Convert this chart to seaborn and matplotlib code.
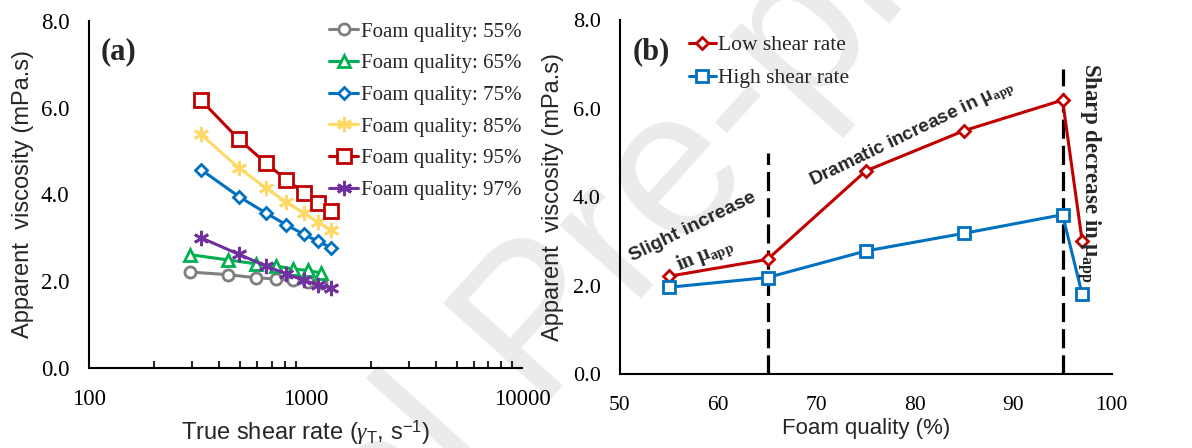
import numpy as np
import pandas as pd
import matplotlib
matplotlib.use("Agg")
import matplotlib.pyplot as plt
import seaborn as sns

sns.set_theme(style="white")
plt.rcParams['font.family'] = ['Liberation Serif', 'DejaVu Serif']
plt.rcParams['mathtext.fontset'] = 'custom'
plt.rcParams['mathtext.rm'] = 'Liberation Sans'
plt.rcParams['mathtext.it'] = 'Liberation Serif:italic'
plt.rcParams['mathtext.bf'] = 'Liberation Serif:bold'

# ---------------- data: panel (a) ----------------
shear_a = [329, 492, 656, 814, 982, 1140, 1313]      # 75, 85, 95, 97 %
shear_b = [294, 438, 588, 732, 874, 1025, 1173]      # 55, 65 %
visc_55 = [2.21, 2.15, 2.08, 2.05, 2.02, 1.98, 1.95]
visc_65 = [2.61, 2.49, 2.40, 2.35, 2.28, 2.25, 2.19]
visc_75 = [4.57, 3.95, 3.57, 3.30, 3.08, 2.92, 2.77]
visc_85 = [5.38, 4.61, 4.15, 3.82, 3.57, 3.36, 3.18]
visc_95 = [6.17, 5.27, 4.72, 4.34, 4.04, 3.81, 3.61]
visc_97 = [3.00, 2.62, 2.35, 2.17, 2.02, 1.92, 1.84]
labels_a = ["Foam quality: 55%", "Foam quality: 65%", "Foam quality: 75%",
            "Foam quality: 85%", "Foam quality: 95%", "Foam quality: 97%"]

# ---------------- data: panel (b) ----------------
foam_q = [55, 65, 75, 85, 95, 97]
low_shear = [2.21, 2.59, 4.59, 5.50, 6.19, 3.00]
high_shear = [1.96, 2.18, 2.78, 3.18, 3.60, 1.80]
dash_x = [65, 95]
dash_top = [5.0, 6.9]

C_GREY, C_GREEN, C_BLUE = "#7F7F7F", "#00B050", "#0070C0"
C_YELLOW, C_RED, C_PURPLE = "#FFD966", "#C00000", "#7030A0"
SANS = 'Liberation Sans'
SERIF = 'Liberation Serif'

fig = plt.figure(figsize=(11.92, 4.48), dpi=100)

# watermark
fig.text(0.454, 0.266, "Journal Pre-proof", fontsize=150, family=SANS,
         color="#EBEBEB", rotation=48, ha="center", va="center", zorder=-5)

axA = fig.add_axes([89/1192, 1-368/448, (522-89)/1192, (368-20.7)/448])
axB = fig.add_axes([620/1192, 1-374/448, (1111.7-620)/1192, (374-20)/448])
for ax in (axA, axB):
    ax.set_facecolor("none")
    for s in ("top", "right"):
        ax.spines[s].set_visible(False)
    for s in ("left", "bottom"):
        ax.spines[s].set_color("black")
        ax.spines[s].set_linewidth(1.5)

series = [
    (shear_b, visc_55, C_GREY, "o", 8, "white"),
    (shear_b, visc_65, C_GREEN, "^", 8, "white"),
    (shear_a, visc_75, C_BLUE, "D", 6, "white"),
    (shear_a, visc_85, C_YELLOW, (6, 2, 0), 11, C_YELLOW),
    (shear_a, visc_95, C_RED, "s", 9.5, "white"),
    (shear_a, visc_97, C_PURPLE, (6, 2, 0), 11, C_PURPLE),
]
for (xs, ys, col, mk, ms, mfc), lab in zip(series, labels_a):
    df = pd.DataFrame({"x": xs, "y": ys})
    sns.lineplot(data=df, x="x", y="y", ax=axA, color=col, marker=mk,
                 markersize=ms, markerfacecolor=mfc, markeredgecolor=col,
                 markeredgewidth=2.0, linewidth=2.2, label=lab)

axA.set_xscale("log")
axA.set_xlim(100, 10000)
axA.set_ylim(0, 8)
axA.set_xticks([100, 1000, 10000])
axA.set_xticklabels(["100", "1000", "10000"])
axA.set_yticks([0, 2, 4, 6, 8])
axA.set_yticklabels([f"{v:.1f}" for v in [0, 2, 4, 6, 8]])
axA.tick_params(axis="both", which="major", direction="out", length=5, width=1.5,
                labelsize=16.5, colors="black")
axA.tick_params(axis="x", which="major", pad=10)
axA.tick_params(axis="y", which="major", pad=9)
axA.tick_params(axis="x", which="minor", direction="in", length=5, width=1.5,
                bottom=True)
axA.xaxis.set_minor_locator(matplotlib.ticker.LogLocator(base=10, subs=np.arange(2, 10)))
axA.xaxis.set_minor_formatter(matplotlib.ticker.NullFormatter())
axA.set_xlabel(r"True shear rate ($\gamma_\mathrm{T}$, s$^{-1}$)", family=SANS,
               fontsize=17, labelpad=6)
axA.set_ylabel("Apparent  viscosity (mPa.s)", family=SANS, fontsize=17, labelpad=5)
axA.text(0.027, 0.911, "(a)", transform=axA.transAxes, fontsize=22, weight="bold",
         family=SERIF, ha="left", va="center")
axA.legend(loc="upper right", bbox_to_anchor=(1.019, 1.02), frameon=False,
           prop={"family": SERIF, "size": 15}, handlelength=1.4,
           handletextpad=0.15, labelspacing=0.58, borderaxespad=0.0)

# panel (b)
dfb = pd.DataFrame({"q": foam_q, "low": low_shear, "high": high_shear})
axB.vlines(dash_x, [0, 0], dash_top, colors="black", linestyles=(0, (6, 2.2)),
           linewidth=2.3, zorder=1)
sns.lineplot(data=dfb, x="q", y="low", ax=axB, color=C_RED, marker="D",
             markersize=6, markerfacecolor="white", markeredgecolor=C_RED,
             markeredgewidth=2.0, linewidth=2.2, label="Low shear rate", zorder=3)
sns.lineplot(data=dfb, x="q", y="high", ax=axB, color=C_BLUE, marker="s",
             markersize=9, markerfacecolor="white", markeredgecolor=C_BLUE,
             markeredgewidth=2.0, linewidth=2.2, label="High shear rate", zorder=3)
axB.set_xlim(50, 100)
axB.set_ylim(0, 8)
axB.set_xticks([50, 60, 70, 80, 90, 100])
axB.set_yticks([0, 2, 4, 6, 8])
axB.set_yticklabels([f"{v:.1f}" for v in [0, 2, 4, 6, 8]])
axB.tick_params(axis="y", which="major", direction="out", length=5, width=1.5,
                labelsize=16, colors="black", pad=9)
axB.tick_params(axis="x", which="major", direction="in", length=7, width=1.5,
                labelsize=15.5, colors="black", pad=16)
axB.set_xlabel("Foam quality (%)", family=SANS, fontsize=16, labelpad=2)
axB.set_ylabel("Apparent  viscosity (mPa.s)", family=SANS, fontsize=17, labelpad=6)
axB.text(0.026, 0.910, "(b)", transform=axB.transAxes, fontsize=22, weight="bold",
         family=SERIF, ha="left", va="center")
axB.legend(loc="upper left", bbox_to_anchor=(0.122, 0.982), frameon=False,
           prop={"family": SERIF, "size": 15.5}, handlelength=1.25,
           handletextpad=0.1, labelspacing=0.62, borderaxespad=0.0)

axB.text(57.4, 3.32, "Slight increase", family=SANS, weight="bold", fontsize=14,
         rotation=26, ha="center", va="center", rotation_mode="anchor")
axB.text(58.64, 2.68, r"in μ$_\mathbf{app}$", family=SERIF, weight="bold", fontsize=15,
         rotation=22, ha="center", va="center", rotation_mode="anchor")
axB.text(79.67, 5.43, r"Dramatic increase in μ$_\mathbf{app}$", family=SANS,
         weight="bold", fontsize=13.6, rotation=25.7, ha="center", va="center",
         rotation_mode="anchor")
axB.text(97.66, 4.54, r"Sharp decrease in μ$_\mathbf{app}$", family=SERIF,
         weight="bold", fontsize=16.5, rotation=-90, ha="center", va="center",
         rotation_mode="anchor")

fig.savefig("out.png", dpi=100)
